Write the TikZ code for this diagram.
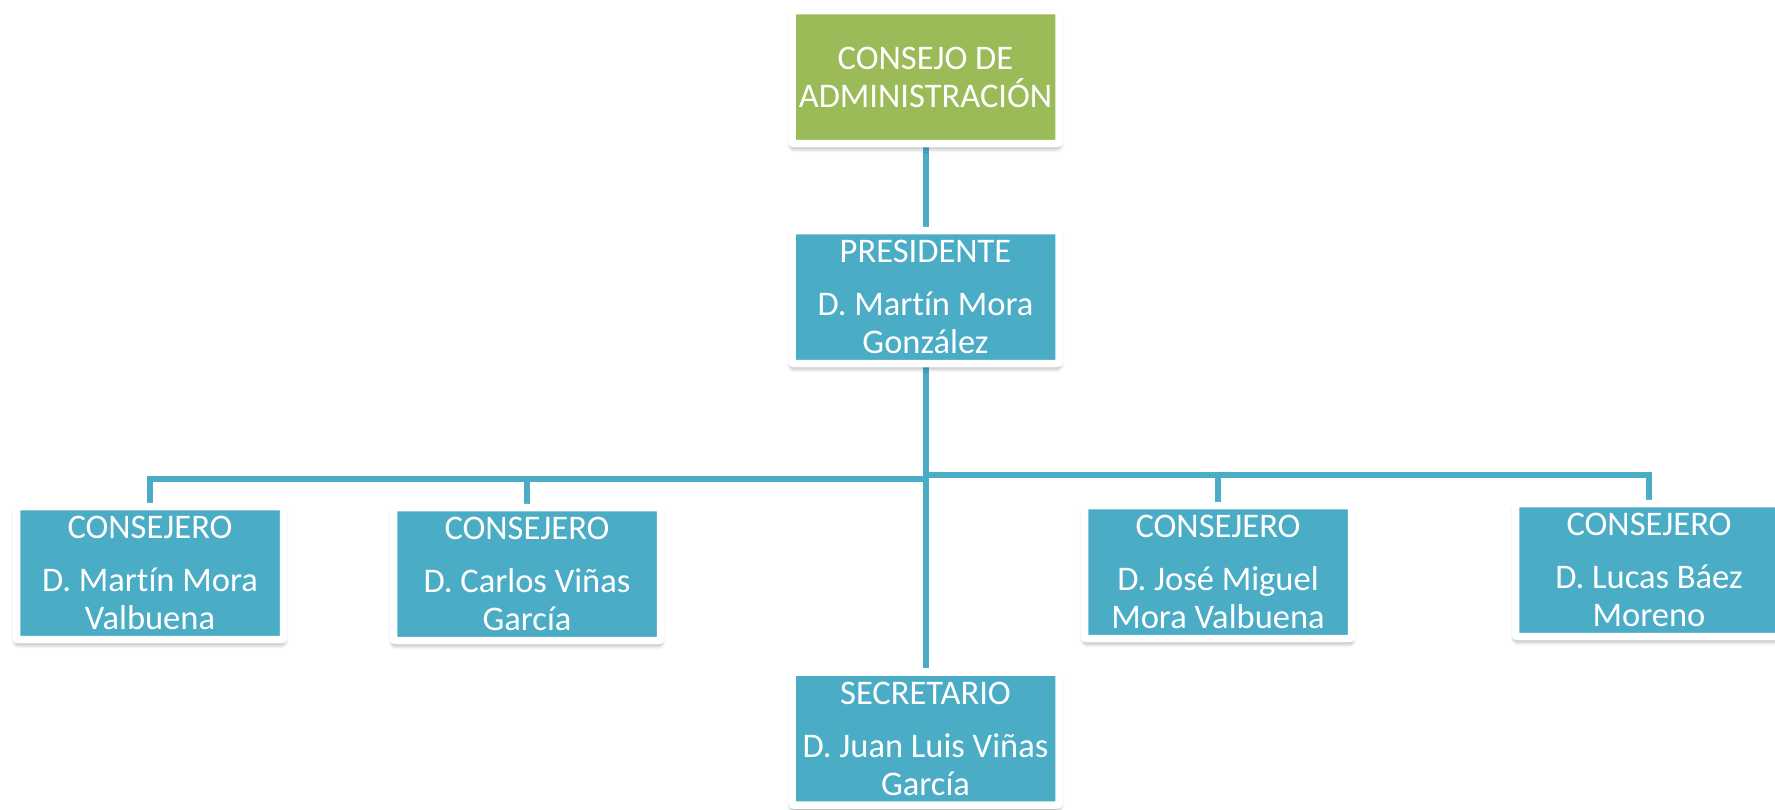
\documentclass[tikz,border=0pt]{standalone}
\usepackage{fontspec}
\setmainfont{Carlito}[Ligatures={NoCommon}]
\usetikzlibrary{shadows.blur,backgrounds}
\definecolor{ogreen}{HTML}{9BBB59}
\definecolor{oaqua}{HTML}{4BACC6}
\tikzset{
 box/.style={draw=white, line width=7.5pt, fill=oaqua, minimum width=267pt, minimum height=133pt,
   inner sep=0pt, rounded corners=2pt,
   blur shadow={shadow xshift=0pt, shadow yshift=-4pt, shadow blur steps=8, shadow blur radius=5pt, shadow opacity=45},
   text=white, align=center, font=\fontsize{34.5}{38}\selectfont},
 conn/.style={draw=oaqua, line width=6pt}
}
\begin{document}
\begin{tikzpicture}[x=1pt,y=-1pt]
\useasboundingbox (0,0) rectangle (1775,809);
\node[box, fill=ogreen] (consejo) at (925.5,77) {CONSEJO DE\\ADMINISTRACIÓN};
\node[box] (pres) at (925.5,297) {PRESIDENTE\\[15pt]D. Martín Mora\\González};
\node[box] (c1) at (150,573) {CONSEJERO\\[15pt]D. Martín Mora\\Valbuena};
\node[box] (c2) at (527,574) {CONSEJERO\\[15pt]D. Carlos Viñas\\García};
\node[box] (c4) at (1218,572) {CONSEJERO\\[15pt]D. José Miguel\\Mora Valbuena};
\node[box] (c5) at (1649,570) {CONSEJERO\\[15pt]D. Lucas Báez\\Moreno};
\node[box] (sec) at (925.5,738.5) {SECRETARIO\\[15pt]D. Juan Luis Viñas\\García};
\begin{scope}[on background layer]
\coordinate (busL) at (925.5,479);
\coordinate (busR) at (925.5,475);
\draw[conn] (consejo.south) -- (pres.north);
\draw[conn] (pres.south) -- (sec.north);
\draw[conn] (c1.north) |- (busL);
\draw[conn] (c2.north) -- (c2.north |- busL);
\draw[conn] (c5.north) |- (busR);
\draw[conn] (c4.north) -- (c4.north |- busR);
\end{scope}
\end{tikzpicture}
\end{document}
